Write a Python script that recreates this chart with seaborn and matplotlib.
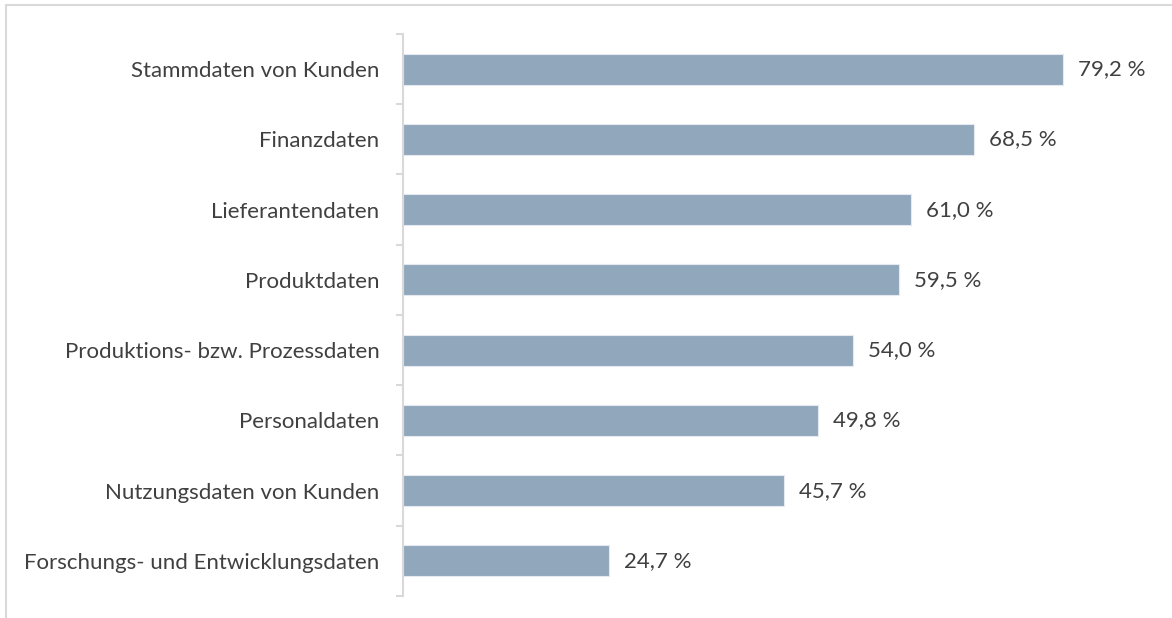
import matplotlib
matplotlib.use("Agg")
import matplotlib.pyplot as plt
import seaborn as sns
import pandas as pd
from matplotlib.lines import Line2D

# Data
categories = [
    "Stammdaten von Kunden",
    "Finanzdaten",
    "Lieferantendaten",
    "Produktdaten",
    "Produktions- bzw. Prozessdaten",
    "Personaldaten",
    "Nutzungsdaten von Kunden",
    "Forschungs- und Entwicklungsdaten",
]
values = [79.2, 68.5, 61.0, 59.5, 54.0, 49.8, 45.7, 24.7]

df = pd.DataFrame({"kategorie": categories, "anteil": values})

sns.set_style("white")
plt.rcParams["font.family"] = ["Lato", "DejaVu Sans"]

fig = plt.figure(figsize=(11.72, 6.18), dpi=100)
ax = fig.add_axes([0.3439, 0.0356, 0.64, 0.9094])

sns.barplot(data=df, y="kategorie", x="anteil", orient="h",
            color="#91A7BC", width=0.44, edgecolor="#E4EAF0",
            linewidth=0.8, saturation=1, ax=ax)

ax.set_xlim(0, 90)
ax.set_ylim(len(categories) - 0.5, -0.5)
ax.set_xlabel("")
ax.set_ylabel("")
ax.set_xticks([])

# value labels
for i, v in enumerate(values):
    ax.text(v + 1.8, i, f"{v:.1f} %".replace(".", ","), va="center",
            ha="left", fontsize=16, color="#404040")

# axis styling
for s in ["top", "right", "bottom"]:
    ax.spines[s].set_visible(False)
ax.spines["left"].set_color("#D9D9D9")
ax.spines["left"].set_linewidth(1.5)
ax.tick_params(axis="y", which="major", left=False, length=0, pad=17,
               labelsize=16, labelcolor="#404040")
ax.set_yticks([i - 0.5 for i in range(len(categories) + 1)], minor=True)
ax.tick_params(axis="y", which="minor", left=True, length=5, width=1.5,
               color="#D9D9D9", direction="out")

# outer frame lines (top and left)
fig.add_artist(Line2D([0.005, 1.0], [0.992, 0.992], transform=fig.transFigure,
                      color="#D9D9D9", linewidth=1.5))
fig.add_artist(Line2D([0.0055, 0.0055], [0.0, 0.992], transform=fig.transFigure,
                      color="#D9D9D9", linewidth=1.5))

fig.savefig("out.png", dpi=100)
